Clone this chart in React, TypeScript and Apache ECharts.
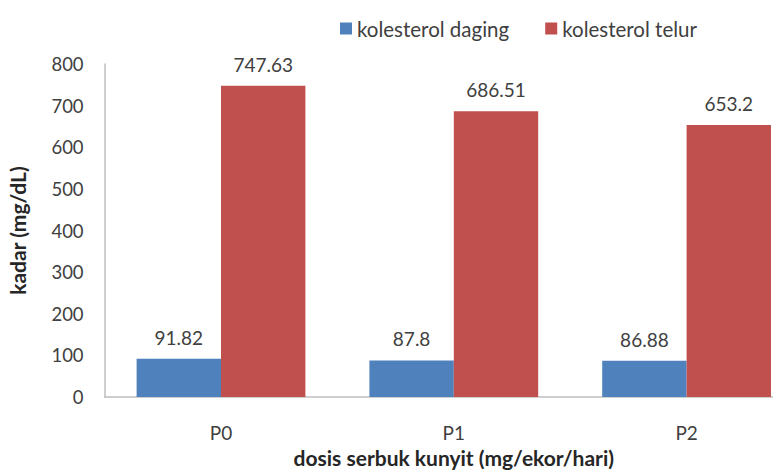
import React, { useEffect, useRef } from "react";
import * as echarts from "echarts";

const categories = ["P0", "P1", "P2"];
const dagingValues = [91.82, 87.8, 86.88];
const telurValues = [747.63, 686.51, 653.2];
const seriesNames = ["kolesterol daging", "kolesterol telur"];
const yTicks = { min: 0, max: 800, interval: 100 };

const FONT = "Lato, 'Open Sans', sans-serif";

export default function App() {
  const ref = useRef<HTMLDivElement>(null);
  useEffect(() => {
    if (!ref.current) return;
    const chart = echarts.init(ref.current, undefined, { renderer: "svg" });
    const labelStyle = {
      show: true,
      position: "top" as const,
      distance: 12,
      color: "#404040",
      fontSize: 19,
      fontFamily: FONT,
    };
    chart.setOption({
      animation: false,
      backgroundColor: "#ffffff",
      textStyle: { fontFamily: FONT },
      legend: {
        data: seriesNames,
        top: 13,
        left: 335,
        itemWidth: 12,
        itemHeight: 12,
        itemGap: 36,
        icon: "rect",
        textStyle: { fontSize: 20.5, color: "#404040", fontFamily: FONT },
      },
      grid: {
        left: 104.6,
        right: -30,
        top: 64,
        bottom: 73,
        containLabel: false,
        outerBoundsMode: "none",
      },
      xAxis: {
        type: "category",
        data: categories,
        axisLine: { lineStyle: { color: "#bfbfbf", width: 1.5 } },
        axisTick: { show: false },
        axisLabel: { fontSize: 19, color: "#404040", margin: 26, fontFamily: FONT },
        name: "dosis serbuk kunyit (mg/ekor/hari)",
        nameLocation: "middle",
        nameGap: 50,
        nameTextStyle: { fontSize: 21, fontWeight: "bold", color: "#262626", fontFamily: FONT },
      },
      yAxis: {
        type: "value",
        min: yTicks.min,
        max: yTicks.max,
        interval: yTicks.interval,
        splitLine: { show: false },
        axisLine: { show: true, lineStyle: { color: "#bfbfbf", width: 1.5 } },
        axisTick: { show: false },
        axisLabel: { fontSize: 18.5, color: "#404040", margin: 21, fontFamily: FONT },
        name: "kadar (mg/dL)",
        nameLocation: "middle",
        nameGap: 77,
        nameRotate: 90,
        nameTextStyle: { fontSize: 21, fontWeight: "bold", color: "#262626", fontFamily: FONT },
      },
      series: [
        {
          name: seriesNames[0],
          type: "bar",
          data: dagingValues,
          itemStyle: { color: "#4f81bd" },
          barGap: "0%",
          barCategoryGap: "27.5%",
          label: labelStyle,
        },
        {
          name: seriesNames[1],
          type: "bar",
          data: telurValues,
          itemStyle: { color: "#c0504d" },
          barGap: "0%",
          barCategoryGap: "27.5%",
          label: labelStyle,
        },
      ],
    });
    return () => chart.dispose();
  }, []);
  return (
    <div
      ref={ref}
      style={{ position: "fixed", left: 0, top: 0, width: 773, height: 470, background: "#fff" }}
    />
  );
}
